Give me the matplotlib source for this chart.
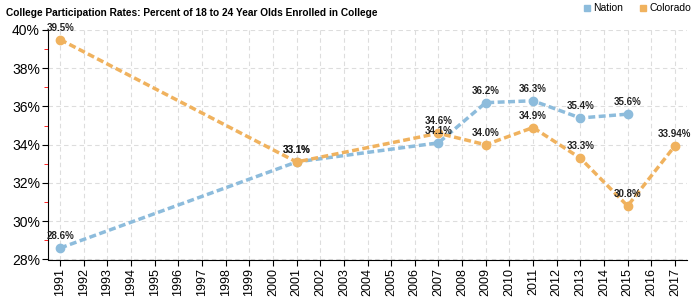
import matplotlib.pyplot as plt
from matplotlib.ticker import MultipleLocator, FuncFormatter
from matplotlib.lines import Line2D

plt.rcParams['font.family'] = ['Liberation Sans', 'DejaVu Sans']

years = list(range(1991, 2018))

nation_years = [1991, 2001, 2007, 2009, 2011, 2013, 2015]
nation_vals = [28.6, 33.1, 34.1, 36.2, 36.3, 35.4, 35.6]
nation_labels = ["28.6%", "33.1%", "34.1%", "36.2%", "36.3%", "35.4%", "35.6%"]

colo_years = [1991, 2001, 2007, 2009, 2011, 2013, 2015, 2017]
colo_vals = [39.5, 33.1, 34.6, 34.0, 34.9, 33.3, 30.8, 33.94]
colo_labels = ["39.5%", "33.1%", "34.6%", "34.0%", "34.9%", "33.3%", "30.8%", "33.94%"]

blue = "#8dbcdc"
orange = "#f0b25e"

fig = plt.figure(figsize=(7, 3), dpi=100)
ax = fig.add_axes([0.069, 0.135, 0.912, 0.765])

ax.plot(nation_years, nation_vals, color=blue, lw=2.5, ls=(0, (2, 1)), marker="o", ms=6, zorder=3)
ax.plot(colo_years, colo_vals, color=orange, lw=2.5, ls=(0, (2, 1)), marker="o", ms=6, zorder=3)

for x, y, t in zip(nation_years, nation_vals, nation_labels):
    ax.annotate(t, (x, y), xytext=(0, 5), textcoords="offset points", ha="center", va="bottom",
                fontsize=7, fontweight="bold", color="#222222", zorder=4)
for x, y, t in zip(colo_years, colo_vals, colo_labels):
    ax.annotate(t, (x, y), xytext=(0, 5), textcoords="offset points", ha="center", va="bottom",
                fontsize=7, fontweight="bold", color="#222222", zorder=4)

ax.set_xlim(1990.5, 2017.5)
ax.set_ylim(28, 40)
ax.set_xticks(years)
ax.set_xticklabels([str(y) for y in years], rotation=90, fontsize=9)
ax.yaxis.set_major_locator(MultipleLocator(2))
ax.yaxis.set_minor_locator(MultipleLocator(1))
ax.yaxis.set_major_formatter(FuncFormatter(lambda v, p: f"{v:.0f}%"))
ax.tick_params(axis="y", labelsize=10, length=4, pad=2)
ax.tick_params(axis="y", which="minor", length=3, color="red")
ax.tick_params(axis="x", length=4, pad=2)

ax.grid(True, ls=(0, (4, 3)), color="#dddddd", lw=0.8)
ax.set_axisbelow(True)
for s in ["top", "right"]:
    ax.spines[s].set_visible(False)

fig.text(0.008, 0.958, "College Participation Rates: Percent of 18 to 24 Year Olds Enrolled in College",
         fontsize=7.3, fontweight="bold", va="center", ha="left")

handles = [Line2D([], [], color=blue, marker="s", ls="", ms=5),
           Line2D([], [], color=orange, marker="s", ls="", ms=5)]
fig.legend(handles, ["Nation", "Colorado"], loc="center right", bbox_to_anchor=(0.995, 0.972),
           ncol=2, frameon=False, fontsize=7.5, handlelength=0.6, handletextpad=0.3,
           columnspacing=1.6, borderpad=0)

fig.savefig("out.png", dpi=100)
